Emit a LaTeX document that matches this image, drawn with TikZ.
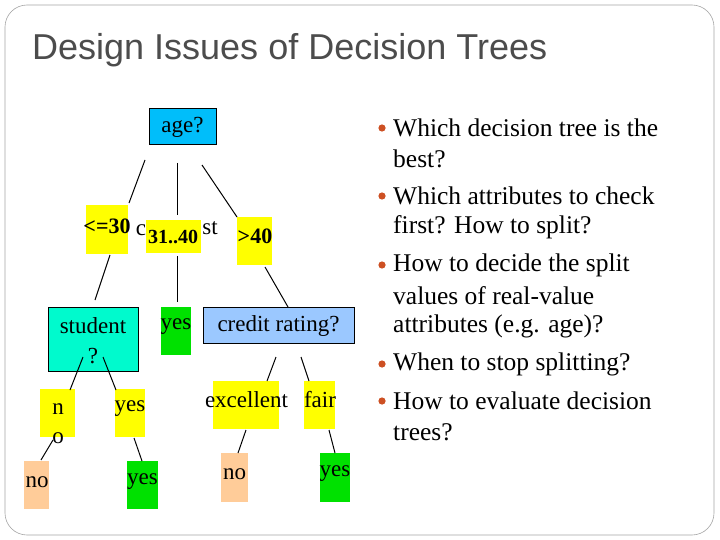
\documentclass[tikz,border=0pt]{standalone}
\usepackage{fontspec}
\setmainfont{Liberation Serif}
\newfontfamily\titlefont{Liberation Sans}
\definecolor{ylw}{RGB}{255,255,0}
\definecolor{grn}{RGB}{0,225,0}
\definecolor{pch}{RGB}{255,204,153}
\definecolor{cyn}{RGB}{0,190,250}
\definecolor{teal2}{RGB}{0,250,205}
\definecolor{lblue}{RGB}{155,200,255}
\definecolor{bul}{RGB}{205,80,35}
\begin{document}
\begin{tikzpicture}[x=1pt,y=-1pt,
  box/.style={inner sep=0pt,outer sep=0pt},
  t/.style={inner sep=0pt,font=\fontsize{23}{26}\selectfont},
  bt/.style={inner sep=0pt,font=\fontsize{25.5}{30}\selectfont,anchor=west},
  edge/.style={line width=1pt}]
\useasboundingbox (0,0) rectangle (720,540);
\fill[white] (0,0) rectangle (720,540);
\draw[gray!70,line width=0.6pt,rounded corners=22] (5,5) rectangle (714,535);
\node[anchor=west,inner sep=0pt,text=black!70,font=\titlefont\fontsize{36}{40}\selectfont] (title) at (32,50) {Design Issues of Decision Trees};
% boxes
\fill[cyn] (149,108) rectangle (216,144); \draw (149,108) rectangle (216,144);
\node[t] (age) at (182.5,127) {age?};
\fill[ylw] (86,205) rectangle (128,254);
\fill[ylw] (146,220) rectangle (201,253);
\fill[ylw] (237,217) rectangle (272,265);
\node[t,font=\fontsize{22}{26}\selectfont\bfseries] (le30) at (107,226) {<=30};
\node[t] (c) at (141,230) {c};
\node[t,font=\fontsize{20}{24}\selectfont\bfseries] (m3140) at (173,237) {31..40};
\node[t] (st) at (210,228) {st};
\node[t,font=\fontsize{22}{26}\selectfont\bfseries] (gt40) at (255,236) {>40};
\fill[teal2] (48,307) rectangle (138,371); \draw (48,307) rectangle (138,371);
\node[t] (student) at (93,326) {student};
\node[t] (q) at (93,356) {?};
\fill[grn] (161,307) rectangle (191,355);
\node[t] (yes1) at (176,327) {yes};
\fill[lblue] (203,307) rectangle (354,343); \draw (203,307) rectangle (354,343);
\node[t] (credit) at (278.5,326) {credit rating?};
\fill[ylw] (40,389) rectangle (75,437);
\node[t] (n) at (58,409) {n};
\node[t] (o) at (58,438) {o};
\fill[ylw] (115,389) rectangle (145,437);
\node[t] (yes2) at (130,409) {yes};
\fill[pch] (24,461) rectangle (49,509);
\node[t] (no1) at (37,482) {no};
\fill[grn] (127,461) rectangle (158,509);
\node[t] (yes3) at (142.5,482) {yes};
\fill[ylw] (213,381) rectangle (279,429);
\node[t] (exc) at (246.5,400) {excellent};
\fill[ylw] (304,381) rectangle (335,429);
\node[t] (fair) at (320,400) {fair};
\fill[pch] (221,453) rectangle (248,502);
\node[t] (no2) at (234.5,474) {no};
\fill[grn] (320,453) rectangle (350,502);
\node[t] (yes4) at (335,474) {yes};
% connector end points
\foreach \n/\x/\y in {a1/145/160,a2/129/203,b1/177/163,b2/177/215,c1/202/165,c2/237/217,
  d1/110/255,d2/95/300,e1/177/256,e2/177/302,f1/265/267,f2/288/307,
  g1/83/357,g2/70/390,h1/103/357,h2/116/390,i1/53/440,i2/41/460,j1/134/438,j2/142/461,
  k1/276/357,k2/267/381,l1/301/357,l2/309/381,m1/246/430,m2/238/453,p1/329/430,p2/335/453}
  \coordinate (\n) at (\x,\y);
\foreach \u/\v in {a1/a2,b1/b2,c1/c2,d1/d2,e1/e2,f1/f2,g1/g2,h1/h2,i1/i2,j1/j2,k1/k2,l1/l2,m1/m2,p1/p2}
  \draw[edge] (\u) -- (\v);
% bullets
\foreach \y in {128,196,265,364,401} \fill[bul] (382,\y) circle (3.6);
\node[bt] (b1a) at (393,128) {Which decision tree is the};
\node[bt] (b1b) at (393,159) {best?};
\node[bt] (b2a) at (393,196) {Which attributes to check};
\node[bt] (b2b) at (393,227) {first? How to split?};
\node[bt] (b3a) at (393,265) {How to decide the split};
\node[bt] (b3b) at (393,296) {values of real-value};
\node[bt] (b3c) at (393,326) {attributes (e.g. age)?};
\node[bt] (b4a) at (393,364) {When to stop splitting?};
\node[bt] (b5a) at (393,401) {How to evaluate decision};
\node[bt] (b5b) at (393,432) {trees?};
\end{tikzpicture}
\end{document}
